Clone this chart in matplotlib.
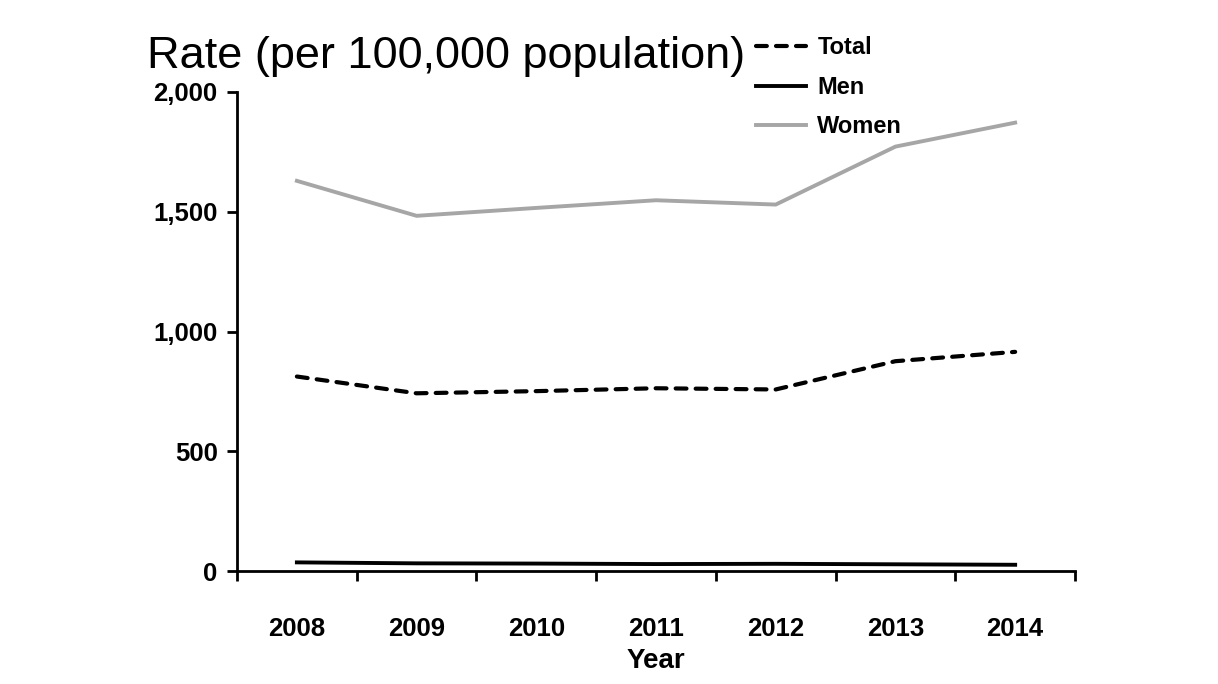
import matplotlib
matplotlib.use("Agg")
import matplotlib.pyplot as plt
from matplotlib.ticker import FuncFormatter, FixedLocator

years = ["2008", "2009", "2010", "2011", "2012", "2013", "2014"]
total = [812, 742, 751, 763, 758, 876, 915]
men = [36, 32, 31, 29, 30, 28, 26]
women = [1629, 1483, 1516, 1548, 1530, 1772, 1872]

plt.rcParams["font.family"] = ["Liberation Sans", "DejaVu Sans"]

fig = plt.figure(figsize=(12.18, 6.84), dpi=100)
ax = fig.add_axes([0.1946, 0.1652, 0.8826 - 0.1946, 0.8655 - 0.1652])

x = list(range(len(years)))
l1, = ax.plot(x, total, color="black", lw=3, ls=(0, (2.6, 2.2)), label="Total",
              dash_capstyle="round")
l2, = ax.plot(x, men, color="black", lw=2.8, label="Men")
l3, = ax.plot(x, women, color="#A6A6A6", lw=2.8, label="Women")

ax.set_xlim(-0.5, len(years) - 0.5)
ax.set_ylim(0, 2000)
ax.set_yticks([0, 500, 1000, 1500, 2000])
ax.yaxis.set_major_formatter(FuncFormatter(lambda v, p: f"{int(v):,}"))

ax.xaxis.set_major_locator(FixedLocator([i - 0.5 for i in range(len(years) + 1)]))
ax.xaxis.set_minor_locator(FixedLocator(x))
ax.set_xticklabels([])
ax.set_xticklabels(years, minor=True)
ax.tick_params(axis="x", which="major", direction="out", length=7, width=2)
ax.tick_params(axis="x", which="minor", length=0, pad=33, labelsize=18.5)
ax.tick_params(axis="y", direction="out", length=7, width=2, labelsize=18.5, pad=7)
for lab in ax.get_xticklabels(minor=True) + ax.get_yticklabels():
    lab.set_fontweight("bold")

for s in ["top", "right"]:
    ax.spines[s].set_visible(False)
for s in ["left", "bottom"]:
    ax.spines[s].set_linewidth(2)

ax.set_xlabel("Year", fontsize=20, fontweight="bold", labelpad=5)

fig.text(0.121, 0.917, "Rate (per 100,000 population)", fontsize=32.5, ha="left", va="center")

leg = fig.legend(handles=[l1, l2, l3], loc="upper left", bbox_to_anchor=(0.611, 0.964),
                 frameon=False, fontsize=17, handlelength=2.1, handletextpad=0.5,
                 labelspacing=0.7, borderpad=0)
for t in leg.get_texts():
    t.set_fontweight("bold")

fig.savefig("out.png", dpi=100)
